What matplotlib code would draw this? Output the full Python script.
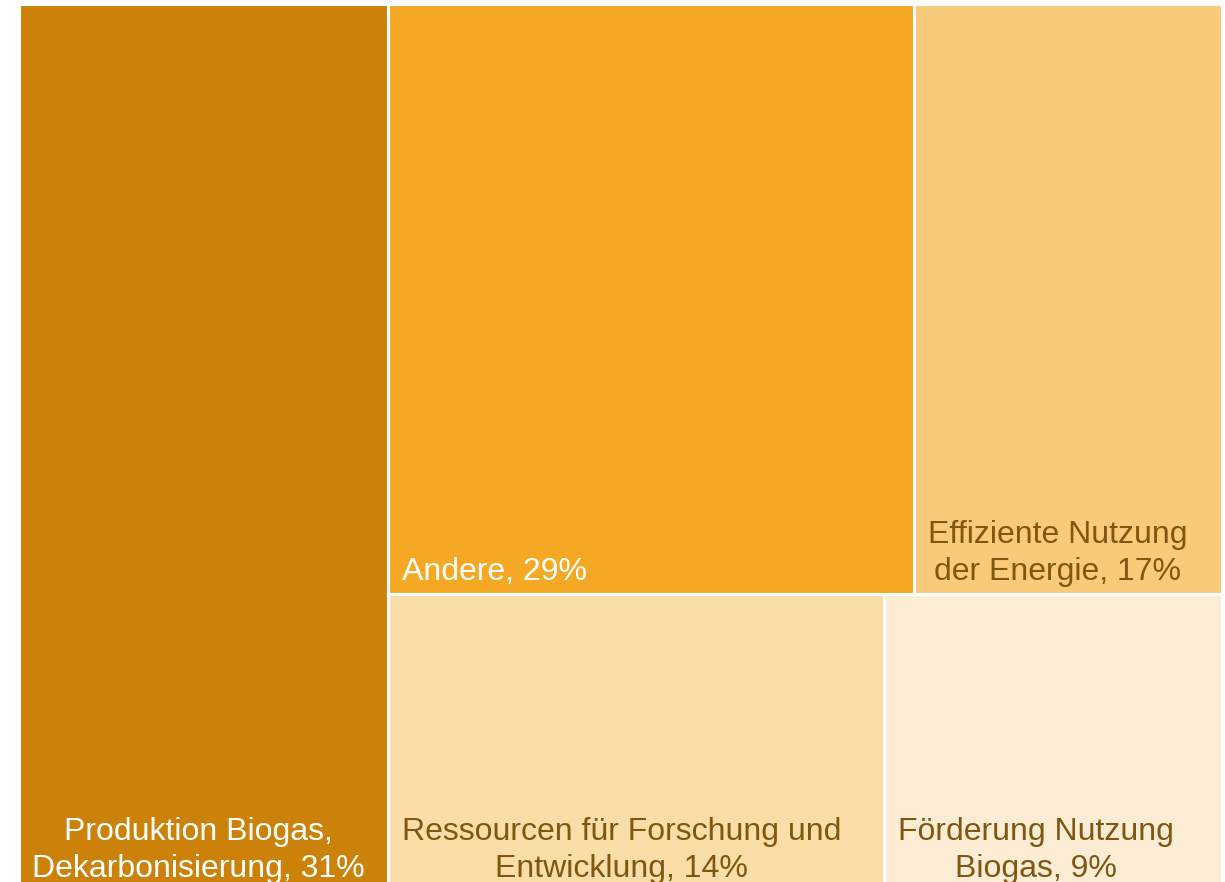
"""Treemap: Verwendung der Mittel (Excel-style layout)."""
import matplotlib.pyplot as plt
from matplotlib.patches import Rectangle

labels = [
    "Produktion Biogas,\nDekarbonisierung",
    "Andere",
    "Effiziente Nutzung\nder Energie",
    "Ressourcen für Forschung und\nEntwicklung",
    "Förderung Nutzung\nBiogas",
]
values = [30.7, 29.1, 17.0, 13.8, 9.4]
colors = ["#CC8208", "#F5A824", "#F9CA7A", "#FBDDA8", "#FDEDD4"]
text_colors = ["white", "white", "#7F5710", "#7F5710", "#7F5710"]


def layout(vals, W=100.0, H=100.0):
    # first item takes a full-height column, the rest go in two rows of two
    total = sum(vals)
    w0 = vals[0] / total * W
    rects = [(0.0, 0.0, w0, H)]
    rest = total - vals[0]
    rw = W - w0
    top_h = (vals[1] + vals[2]) / rest * H
    x = w0
    for v in vals[1:3]:
        w = v / (vals[1] + vals[2]) * rw
        rects.append((x, H - top_h, w, top_h))
        x += w
    bot_h = H - top_h
    x = w0
    for v in vals[3:5]:
        w = v / (vals[3] + vals[4]) * rw
        rects.append((x, 0.0, w, bot_h))
        x += w
    return rects


def main():
    plt.rcParams["font.family"] = ["Liberation Sans", "DejaVu Sans"]
    fig = plt.figure(figsize=(12.25, 8.82), dpi=100)
    fw, fh = 1225.0, 882.0
    left, right, top, bottom = 18.5, 1221.5, 3.5, 891.0
    ax = fig.add_axes([left / fw, 1 - bottom / fh, (right - left) / fw, (bottom - top) / fh])
    ax.set_xlim(0, 100)
    ax.set_ylim(0, 100)
    ax.axis("off")

    for (x, y, w, h), lab, v, c, tc in zip(layout(values), labels, values, colors, text_colors):
        ax.add_patch(Rectangle((x, y), w, h, facecolor=c, edgecolor="white", linewidth=2.2))
        ax.annotate(
            f"{lab}, {round(v)}%",
            xy=(x, y),
            xytext=(10, 5),
            textcoords="offset points",
            ha="left",
            va="bottom",
            multialignment="center",
            fontsize=23,
            color=tc,
            linespacing=1.3,
        )

    fig.savefig("out.png", dpi=100)


if __name__ == "__main__":
    main()
